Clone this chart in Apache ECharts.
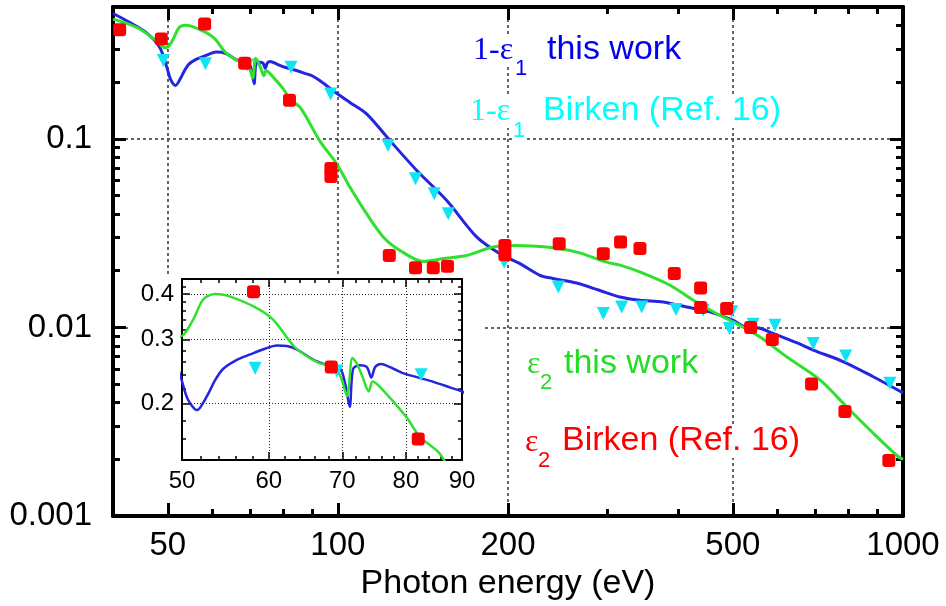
<!DOCTYPE html>
<html>
<head>
<meta charset="utf-8">
<script src="https://cdn.jsdelivr.net/npm/echarts@6/dist/echarts.min.js"></script>
<style>
  html, body { margin: 0; padding: 0; background: #fff; }
  #chart { width: 946px; height: 606px; }
</style>
</head>
<body>
<div id="chart"></div>
<script>
// 1 - eps1, this work (photon energy in eV, value)
const eps1Work = [
  [40, 0.462], [42.3, 0.423], [45.8, 0.366], [48.4, 0.305], [49.8, 0.24], [50.6, 0.206],
  [51.6, 0.192], [52.7, 0.21], [53.6, 0.232], [54.5, 0.249], [56, 0.263], [57.7, 0.273],
  [59.5, 0.283], [61, 0.289], [62.3, 0.288], [63.6, 0.282], [65.9, 0.264], [67.9, 0.255],
  [69.7, 0.249], [70.4, 0.228], [71.1, 0.196], [71.6, 0.249], [72.6, 0.255], [73.7, 0.252],
  [74.4, 0.236], [75, 0.252], [75.9, 0.257], [78, 0.249], [80, 0.241], [84.2, 0.231],
  [88, 0.221], [90, 0.216], [93, 0.203], [98.1, 0.18], [105, 0.156], [112.4, 0.1356],
  [123.6, 0.098], [137.9, 0.068], [155.7, 0.0472], [176, 0.0302], [193.5, 0.0246],
  [210, 0.0218], [227.8, 0.0189], [240, 0.0182], [264.5, 0.0172], [290, 0.01575],
  [315.6, 0.0145], [342, 0.01395], [376.5, 0.01366], [414, 0.01285], [455, 0.0121],
  [500, 0.01093], [522, 0.01016], [558, 0.0099], [589, 0.0093], [648, 0.0083],
  [693.6, 0.00759], [785, 0.00658], [886, 0.00548], [1000, 0.0045]
];
// eps2, this work
const eps2Work = [
  [40, 0.431], [42.3, 0.409], [44.6, 0.382], [47.75, 0.331], [49.4, 0.304], [50.2, 0.31],
  [51.2, 0.341], [52.3, 0.387], [53.6, 0.4], [55, 0.396], [58.5, 0.366], [60.6, 0.339],
  [63.2, 0.288], [65, 0.27], [66.8, 0.258], [68.9, 0.252], [69.8, 0.236], [70.7, 0.21],
  [71.5, 0.267], [72.1, 0.259], [73, 0.238], [74, 0.216], [74.6, 0.23], [75.9, 0.221],
  [80, 0.1845], [82.4, 0.162], [86, 0.145], [93, 0.097], [99.5, 0.0738], [105, 0.0555],
  [112.4, 0.0401], [120.3, 0.0302], [128.8, 0.0256], [141.6, 0.0224], [153.6, 0.0232],
  [169, 0.0241], [188.2, 0.0267], [207, 0.0272], [234, 0.0267], [264.5, 0.0251],
  [299, 0.0222], [315.6, 0.0214], [342, 0.0197], [387, 0.01675], [425.7, 0.01395],
  [467.5, 0.01186], [507, 0.0105], [558.6, 0.0089], [622.5, 0.00699], [713.8, 0.00526],
  [794.5, 0.0038], [886, 0.00275], [980, 0.00207], [1000, 0.002]
];
// 1 - eps1, Birken (Ref. 16)
const eps1Birken = [
  [49.1, 0.26], [58.3, 0.25], [69.2, 0.246], [82.6, 0.24], [97.1, 0.173], [122.7, 0.0922],
  [137.2, 0.0614], [148.1, 0.0512], [156.8, 0.0401], [196.9, 0.0222], [245.5, 0.0164],
  [294.9, 0.01186], [317.8, 0.01285], [344.8, 0.01285], [396.5, 0.01245], [443, 0.01235],
  [497.6, 0.0121], [492.8, 0.00988], [543, 0.0104], [593.5, 0.01029], [693.6, 0.00823],
  [791.8, 0.00705], [948, 0.00506]
];
// eps2, Birken (Ref. 16)
const eps2Birken = [
  [41.1, 0.379], [48.7, 0.338], [58.1, 0.406], [68.4, 0.252], [82.1, 0.16], [97.2, 0.0697],
  [97.2, 0.0632], [123.3, 0.0241], [137.2, 0.0207], [147.5, 0.0207], [156.3, 0.0211],
  [197.5, 0.0272], [197.5, 0.0243], [246.4, 0.0278], [294.9, 0.0246], [316.4, 0.0284],
  [342.4, 0.0262], [393.8, 0.0193], [438.5, 0.0162], [438.5, 0.01276], [487.5, 0.0126],
  [537.5, 0.01], [587, 0.00864], [689, 0.00501], [789.4, 0.00358], [944, 0.00197]
];

const xMajor = [50, 100, 200, 500, 1000];
const xMinor = [60, 70, 80, 90, 300, 400, 600, 700, 800, 900];
const yMajor = [0.001, 0.01, 0.1];
const yMinor = [0.002, 0.003, 0.004, 0.005, 0.006, 0.007, 0.008, 0.009,
  0.02, 0.03, 0.04, 0.05, 0.06, 0.07, 0.08, 0.09, 0.2, 0.3, 0.4, 0.5];
const insetXMajor = [50, 60, 70, 80, 90];
const insetXMinor = [52, 54, 56, 58, 62, 64, 66, 68, 72, 74, 76, 78, 82, 84, 86, 88];
const insetYMajor = [0.2, 0.3, 0.4];
const insetYMinor = [0.14, 0.16, 0.18, 0.22, 0.24, 0.26, 0.28, 0.32, 0.34, 0.36, 0.38, 0.42, 0.44];

const SANS = '"Liberation Sans", Arial, sans-serif';
const SERIF = '"Liberation Serif", "Times New Roman", serif';
const BLUE = '#2525e0';
const GREEN = '#30e030';
const CYAN = '#10e4f4';
const RED = '#ff0000';

function fmt(v) {
  return String(+Number(v).toPrecision(3));
}

function logAxis(o) {
  return {
    type: 'log',
    logBase: 10,
    gridIndex: o.grid,
    position: o.pos,
    min: o.min,
    max: o.max,
    z: o.z || 0,
    name: o.name || '',
    nameLocation: 'middle',
    nameGap: 48,
    nameTextStyle: { fontSize: 34, color: '#000', fontFamily: SANS },
    axisLine: { show: !!o.line, onZero: false, lineStyle: { color: '#000', width: o.lw } },
    axisTick: {
      show: true, inside: true, length: o.len, customValues: o.ticks,
      lineStyle: { color: '#000', width: o.tw }
    },
    axisLabel: o.labels ? {
      show: true, customValues: o.ticks, formatter: fmt, margin: o.margin,
      fontSize: o.fs, color: '#000', fontFamily: SANS
    } : { show: false },
    splitLine: o.split ? {
      show: true, lineStyle: { color: o.splitColor, width: o.splitWidth, type: o.split }
    } : { show: false },
    minorTick: { show: false },
    minorSplitLine: { show: false }
  };
}

const mainX = { grid: 0, min: 40, max: 1000 };
const mainY = { grid: 0, min: 0.001, max: 0.5 };
const insX = { grid: 1, min: 50, max: 90, z: 3 };
const insY = { grid: 1, min: 0.14, max: 0.44, z: 3 };

const xAxes = [
  logAxis(Object.assign({}, mainX, { pos: 'bottom', line: true, lw: 4, len: 13, tw: 3, ticks: xMajor,
    labels: true, fs: 33, margin: 13, split: [3, 3], splitColor: '#333', splitWidth: 1.5,
    name: 'Photon energy (eV)' })),
  logAxis(Object.assign({}, mainX, { pos: 'bottom', len: 7, tw: 3, ticks: xMinor })),
  logAxis(Object.assign({}, mainX, { pos: 'top', line: true, lw: 4, len: 13, tw: 3, ticks: xMajor })),
  logAxis(Object.assign({}, mainX, { pos: 'top', len: 7, tw: 3, ticks: xMinor })),
  logAxis(Object.assign({}, insX, { pos: 'bottom', line: true, lw: 2, len: 8, tw: 1.5, ticks: insetXMajor,
    labels: true, fs: 24, margin: 9, split: [1, 2], splitColor: '#222', splitWidth: 1 })),
  logAxis(Object.assign({}, insX, { pos: 'bottom', len: 4, tw: 1.5, ticks: insetXMinor })),
  logAxis(Object.assign({}, insX, { pos: 'top', line: true, lw: 2, len: 8, tw: 1.5, ticks: insetXMajor })),
  logAxis(Object.assign({}, insX, { pos: 'top', len: 4, tw: 1.5, ticks: insetXMinor }))
];
const yAxes = [
  logAxis(Object.assign({}, mainY, { pos: 'left', line: true, lw: 4, len: 13, tw: 3, ticks: yMajor,
    labels: true, fs: 33, margin: 21, split: [3, 3], splitColor: '#333', splitWidth: 1.5 })),
  logAxis(Object.assign({}, mainY, { pos: 'left', len: 7, tw: 3, ticks: yMinor })),
  logAxis(Object.assign({}, mainY, { pos: 'right', line: true, lw: 4, len: 13, tw: 3, ticks: yMajor })),
  logAxis(Object.assign({}, mainY, { pos: 'right', len: 7, tw: 3, ticks: yMinor })),
  logAxis(Object.assign({}, insY, { pos: 'left', line: true, lw: 2, len: 8, tw: 1.5, ticks: insetYMajor,
    labels: true, fs: 24, margin: 8, split: [1, 2], splitColor: '#222', splitWidth: 1 })),
  logAxis(Object.assign({}, insY, { pos: 'left', len: 4, tw: 1.5, ticks: insetYMinor })),
  logAxis(Object.assign({}, insY, { pos: 'right', line: true, lw: 2, len: 8, tw: 1.5, ticks: insetYMajor })),
  logAxis(Object.assign({}, insY, { pos: 'right', len: 4, tw: 1.5, ticks: insetYMinor }))
];

function seriesSet(xi, yi, lw, z) {
  return [
    { type: 'line', xAxisIndex: xi, yAxisIndex: yi, data: eps1Work, showSymbol: false, smooth: 0.3,
      lineStyle: { color: BLUE, width: lw }, z: z },
    { type: 'line', xAxisIndex: xi, yAxisIndex: yi, data: eps2Work, showSymbol: false, smooth: 0.3,
      lineStyle: { color: GREEN, width: lw }, z: z },
    { type: 'scatter', xAxisIndex: xi, yAxisIndex: yi, data: eps1Birken, symbol: 'triangle',
      symbolRotate: 180, symbolSize: 13, itemStyle: { color: CYAN, opacity: 1 }, z: z + 1 },
    { type: 'scatter', xAxisIndex: xi, yAxisIndex: yi, data: eps2Birken, symbol: 'roundRect',
      symbolSize: 13, itemStyle: { color: RED, opacity: 1 }, z: z + 2 }
  ];
}

function label(x, y, text, color, font) {
  return {
    type: 'text', x: x, y: y, z: 6,
    style: { text: text, fill: color, font: font, align: 'left', verticalAlign: 'middle',
      backgroundColor: '#fff' }
  };
}

const chart = echarts.init(document.getElementById('chart'));
chart.setOption({
  animation: false,
  backgroundColor: '#fff',
  grid: [
    { left: 113, top: 7, width: 790, height: 510 },
    { left: 182, top: 279, width: 280, height: 181 }
  ],
  xAxis: xAxes,
  yAxis: yAxes,
  graphic: [
    { type: 'rect', z: 1, shape: { x: 128, y: 274, width: 355, height: 229 }, style: { fill: '#fff' } },
    label(473, 51, '1-\u03b5', '#0000ee', '32px ' + SERIF),
    label(515, 69, '1', '#0000ee', '22px ' + SANS),
    label(547, 50, 'this work', '#0000ee', '34px ' + SANS),
    label(470, 112, '1-\u03b5', '#00ffff', '32px ' + SERIF),
    label(513, 131, '1', '#00ffff', '22px ' + SANS),
    label(543, 111, 'Birken (Ref. 16)', '#00ffff', '34px ' + SANS),
    label(527, 365, '\u03b5', '#22dd22', '32px ' + SERIF),
    label(540, 383, '2', '#22dd22', '22px ' + SANS),
    label(564, 364, 'this work', '#22dd22', '34px ' + SANS),
    label(525, 443, '\u03b5', '#ff0000', '32px ' + SERIF),
    label(538, 461, '2', '#ff0000', '22px ' + SANS),
    label(562, 441, 'Birken (Ref. 16)', '#ff0000', '34px ' + SANS)
  ],
  series: seriesSet(0, 0, 3, 2).concat(seriesSet(4, 4, 2.5, 4))
});
</script>
</body>
</html>
